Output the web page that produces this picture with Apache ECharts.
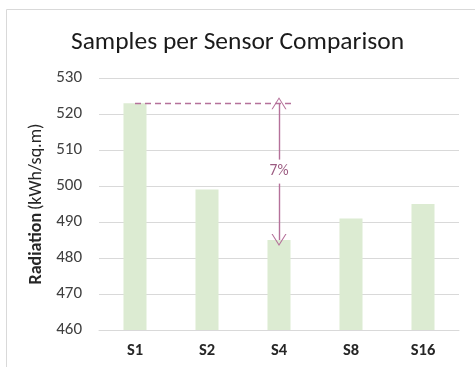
<!DOCTYPE html>
<html><head><meta charset="utf-8">
<script src="https://cdn.jsdelivr.net/npm/echarts@6/dist/echarts.min.js"></script>
<style>html,body{margin:0;padding:0;background:#fff}#c{width:475px;height:367px}</style>
</head><body><div id="c"></div>
<script>
const categories = ['S1', 'S2', 'S4', 'S8', 'S16'];
const radiation = [523, 499, 485, 491, 495];
const yTicks = { min: 460, max: 530, interval: 10 };
const diffLabel = '7%';
const diffFrom = { cat: 'S1', value: 523 };
const diffTo = { cat: 'S4', value: 485 };

const annColor = '#b5719a';
const chevron = 'path://M0,20 L10,0 L20,20 L18.4,20 L10,3.2 L1.6,20 Z';
const font = 'Carlito, "Liberation Sans", "Noto Sans", sans-serif';

const chart = echarts.init(document.getElementById('c'), null, { renderer: 'canvas' });
chart.setOption({
  animation: false,
  textStyle: { fontFamily: font },
  graphic: [{
    type: 'rect', silent: true, z: -1,
    shape: { x: 6.5, y: 9.5, width: 480, height: 380 },
    style: { fill: 'none', stroke: '#d9d9d9', lineWidth: 1 }
  }],
  title: {
    text: 'Samples per Sensor Comparison',
    left: 'center', top: 25,
    textStyle: { fontSize: 25.5, fontWeight: 'normal', color: '#1a1a1a', fontFamily: font }
  },
  grid: { left: 99, right: 16, top: 78, bottom: 37, containLabel: false },
  xAxis: {
    type: 'category', data: categories,
    axisLine: { lineStyle: { color: '#d9d9d9', width: 1 } },
    axisTick: { show: false },
    axisLabel: { margin: 12, fontSize: 16.5, fontWeight: 'bold', color: '#262626', fontFamily: font }
  },
  yAxis: {
    type: 'value', min: yTicks.min, max: yTicks.max, interval: yTicks.interval,
    name: '{b|Radiation} {n|(kWh/sq.m)}',
    nameLocation: 'middle', nameGap: 47, nameRotate: 90,
    nameTextStyle: {
      rich: {
        b: { fontSize: 18, fontWeight: 'bold', color: '#262626', fontFamily: font },
        n: { fontSize: 18, fontWeight: 'normal', color: '#262626', fontFamily: font }
      }
    },
    axisLine: { show: false }, axisTick: { show: false },
    axisLabel: { margin: 17, fontSize: 17, color: '#404040', fontFamily: font },
    splitLine: { lineStyle: { color: '#d9d9d9', width: 1 } }
  },
  series: [{
    type: 'bar', data: radiation, barWidth: '32%',
    itemStyle: { color: '#dcebd2' },
    markLine: {
      silent: true,
      animation: false,
      symbol: 'none',
      lineStyle: { color: annColor, width: 1.3, type: [6, 4], opacity: 1 },
      label: { show: false },
      data: [
        [
          { coord: [diffFrom.cat, diffFrom.value] },
          { coord: [diffTo.cat, diffFrom.value], x: '61.3%' }
        ],
        [
          { coord: [diffTo.cat, diffFrom.value], symbol: chevron, symbolSize: [15, 12],
            lineStyle: { type: 'solid', color: annColor, width: 1.4 },
            label: { show: true, position: 'middle', formatter: diffLabel, color: '#9b5a80', fontSize: 15.5,
              backgroundColor: '#fff', padding: [4, 0, 4, 0], rotate: 0, distance: 0,
              align: 'center', verticalAlign: 'middle', fontFamily: font } },
          { coord: [diffTo.cat, diffTo.value], symbol: chevron, symbolSize: [15, 12] }
        ]
      ],
      itemStyle: { color: annColor }
    }
  }]
});
</script></body></html>
